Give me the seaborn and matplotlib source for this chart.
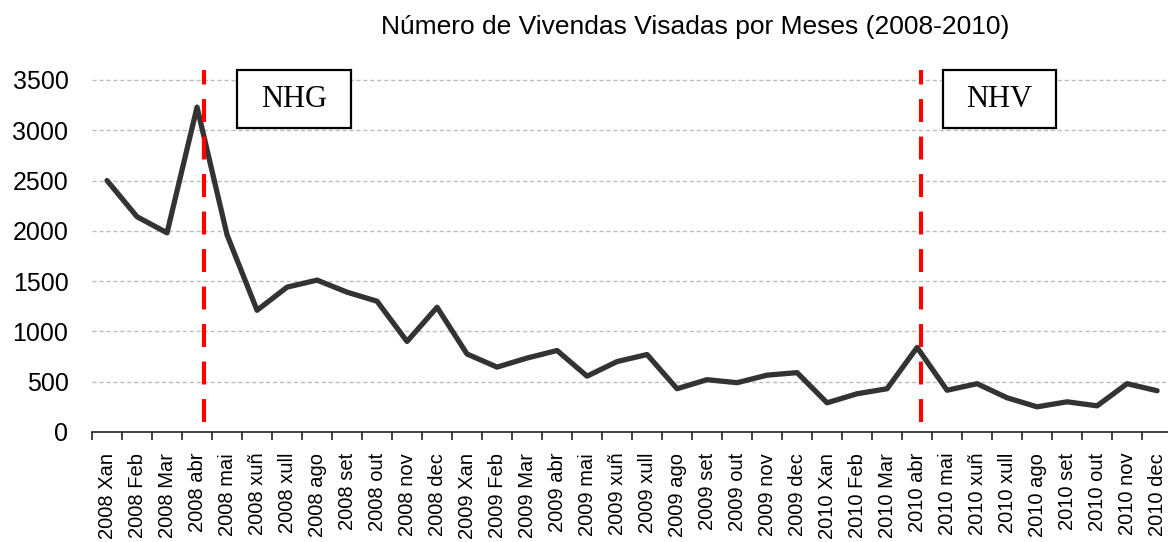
import numpy as np
import pandas as pd
import matplotlib
matplotlib.use("Agg")
import matplotlib.pyplot as plt
from matplotlib.patches import Rectangle
import seaborn as sns

# Data
years = ["2008"] * 12 + ["2009"] * 12 + ["2010"] * 12
months = ["Xan", "Feb", "Mar", "abr", "mai", "xuñ", "xull", "ago", "set", "out", "nov", "dec"] * 3
values = [2500, 2140, 1980, 3230, 1960, 1210, 1440, 1510, 1390, 1300, 900, 1240,
          775, 645, 735, 810, 555, 700, 770, 430, 520, 490, 565, 590,
          290, 380, 430, 840, 415, 480, 340, 250, 300, 260, 480, 410]

# Legislative events (label, position on the month axis)
event_labels = ["NHG", "NHV"]
event_pos = [3.23, 27.13]

labels = [f"{y} {m}" for y, m in zip(years, months)]
df = pd.DataFrame({"idx": np.arange(len(values)), "value": values})

sns.set_style("white")
plt.rcParams["font.family"] = ["Liberation Sans", "DejaVu Sans"]
plt.rcParams["text.color"] = "black"
plt.rcParams["xtick.labelcolor"] = "black"
plt.rcParams["ytick.labelcolor"] = "black"

fig = plt.figure(figsize=(11.68, 5.42), dpi=100)
ax = fig.add_axes([0.0788, 0.203, 0.9247, 0.668])

# gridlines
ax.set_ylim(0, 3600)
ax.set_yticks(np.arange(0, 3501, 500))
for yv in np.arange(500, 3501, 500):
    ax.axhline(yv, color="#bdbdbd", lw=1, ls=(0, (3, 2)), zorder=0)

sns.lineplot(data=df, x="idx", y="value", ax=ax, color="#333333", lw=3.8, zorder=3)

# event markers
for pos in event_pos:
    ax.plot([pos, pos], [100, 3600], color="#ff0000", lw=3, ls=(0, (5.5, 3.5)),
            zorder=4, clip_on=False)

box_x = [(4.33, 8.13), (27.87, 31.63)]
for (x0, x1), lab in zip(box_x, event_labels):
    ax.add_patch(Rectangle((x0, 3020), x1 - x0, 580, facecolor="white",
                           edgecolor="black", lw=1.6, zorder=5, clip_on=False))
    ax.text((x0 + x1) / 2, 3310, lab, ha="center", va="center",
            fontsize=22, family="Liberation Serif", color="black", zorder=6)

ax.set_xlim(-0.5, len(values) - 0.5)
ax.set_xticks(np.arange(len(values)))
ax.set_xticklabels(labels, rotation=90, fontsize=14.5)
ax.set_xticks(np.arange(-0.5, len(values), 1), minor=True)
ax.tick_params(axis="x", which="major", length=0, pad=15)
ax.tick_params(axis="x", which="minor", length=6, width=1.2, color="#222222", direction="out", bottom=True)
ax.tick_params(axis="y", length=0, pad=17, labelsize=18)
ax.set_xlabel("")
ax.set_ylabel("")

for s in ["top", "right", "left"]:
    ax.spines[s].set_visible(False)
ax.spines["bottom"].set_color("#222222")
ax.spines["bottom"].set_linewidth(1.2)

fig.text(0.595, 0.950, "Número de Vivendas Visadas por Meses (2008-2010)",
         ha="center", va="center", fontsize=19, color="black")

fig.savefig("out.png", dpi=100)
